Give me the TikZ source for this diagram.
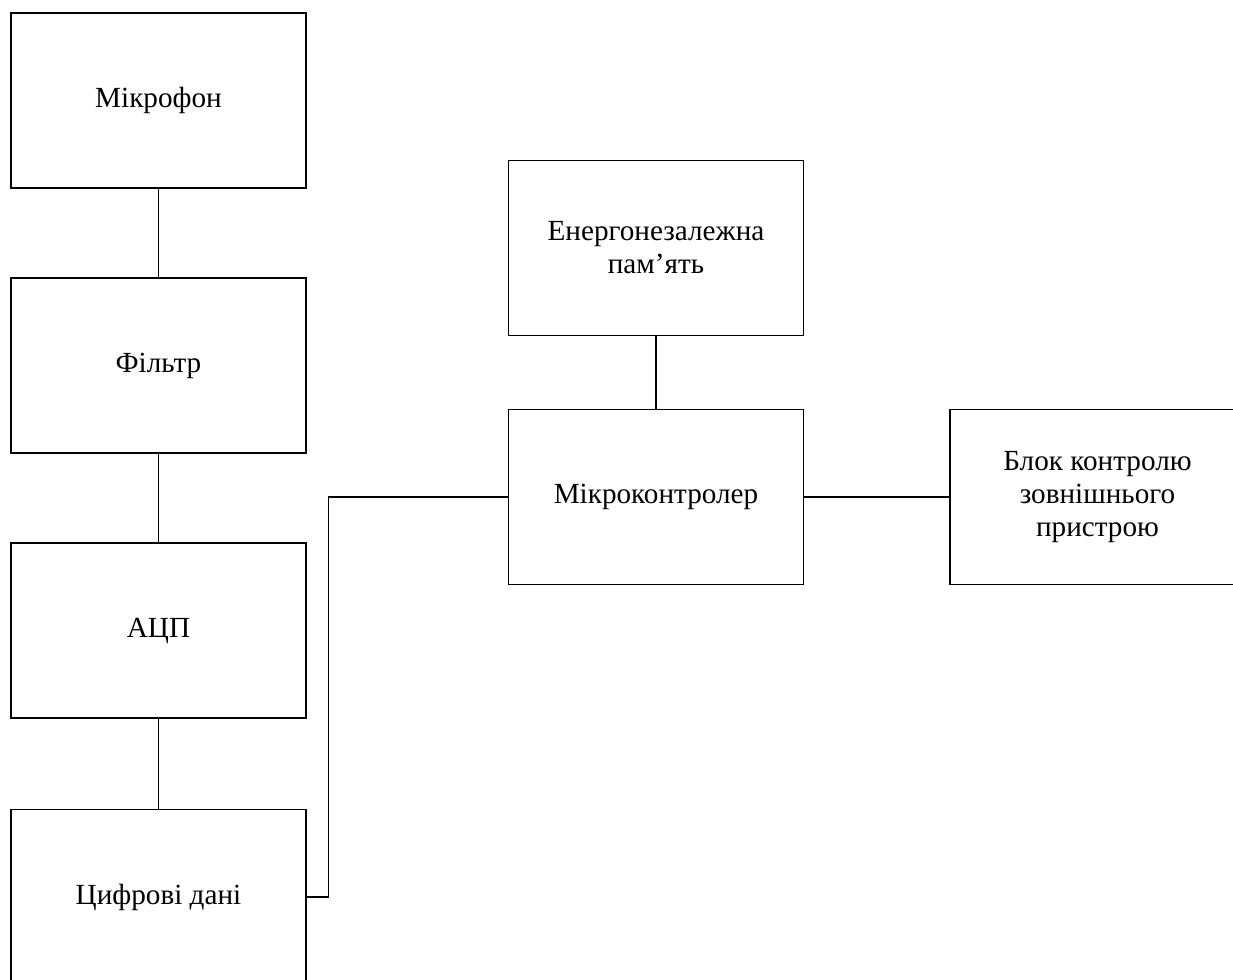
\documentclass[tikz,border=0pt]{standalone}
\usepackage{fontspec}
\setmainfont{Liberation Serif}
\begin{document}
\begin{tikzpicture}[x=0.5pt, y=-0.5pt, line width=0.65pt,
    block/.style={draw, align=center, minimum width=147.5pt, minimum height=87.5pt,
      inner sep=0pt, font=\fontsize{14.6}{16.5}\selectfont}]
    \useasboundingbox (0, 0) rectangle (1233, 980);

    % Signal chain
    \node [block] (mic) at (158.5, 100.5) {Мікрофон};
    \node [block] (filter) at (158.5, 365.5) {Фільтр};
    \node [block] (adc) at (158.5, 630.5) {АЦП};
    \node [block] (data) at (158.5, 897) {Цифрові дані};

    \draw (mic) -- (filter);
    \draw (filter) -- (adc);
    \draw (adc) -- (data);

    % Controller
    \node [block] (mem) at (656, 248) {Енергонезалежна\\пам’ять};
    \node [block] (mcu) at (656, 497) {Мікроконтролер};
    \node [block] (ctrl) at (1097.5, 497) {Блок контролю\\зовнішнього\\пристрою};

    \draw (mem) -- (mcu);
    \draw (mcu) -- (ctrl);

    % Data to controller
    \draw (data.east) -- ++(22, 0) |- (mcu.west);
  \end{tikzpicture}
\end{document}
